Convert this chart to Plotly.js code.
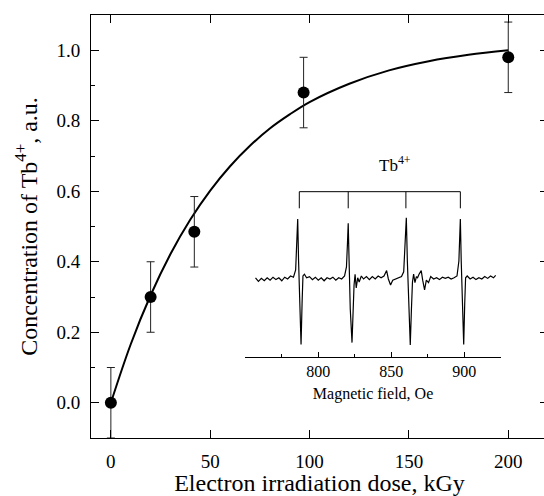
<!DOCTYPE html>
<html>
<head>
<meta charset="utf-8">
<script src="https://cdn.plot.ly/plotly-3.0.1.min.js"></script>
<style>
html,body{margin:0;padding:0;overflow:hidden;background:#fff;}
#plot{width:551px;height:496px;}
</style>
</head>
<body>
<div id="plot"></div>
<script>
// Main data: Tb4+ concentration vs dose
var dose = [0, 20, 42, 97, 200];
var conc = [0.0, 0.30, 0.485, 0.88, 0.98];
var concErr = [0.1, 0.1, 0.1, 0.1, 0.1];

// Fitted curve
var fitDose = [0, 10, 20, 30, 40, 50, 60, 70, 80, 90, 100, 120, 140, 160, 180, 200];
var fitConc = [0.0, 0.166, 0.305, 0.422, 0.520, 0.602, 0.671, 0.729, 0.778, 0.818, 0.853, 0.905, 0.943, 0.969, 0.987, 1.0];

// Inset EPR spectrum (field in Oe, signal in a.u.)
var field = [757, 759, 761, 763, 765, 767, 769, 771, 773, 775, 777, 779, 781, 783, 784.5, 785.3, 785.9, 786.5, 787.2, 788.2, 788.9, 789.5, 790.5,
  792, 794, 796, 798, 800, 802, 804, 806, 808, 810, 812, 814, 816, 818, 819.3, 820, 820.5, 821.1, 821.9, 823.1, 823.8, 824.5, 825.2, 826,
  827, 828, 829.5, 831, 833, 835, 837, 839, 841, 843, 845, 846.8, 848, 849.5, 851, 853, 855, 857, 858.5, 859.5, 860.3, 861, 861.9, 863, 863.8,
  864.5, 865.3, 866.2, 867.2, 868, 869, 870.5, 871.5, 872.8, 874, 875.5, 877, 879, 881, 883, 885, 887, 889, 891, 893, 895, 896.3, 896.9,
  897.3, 897.9, 898.7, 899.6, 900.3, 900.9, 902, 904, 906, 908, 910, 912, 914, 916, 918, 920, 921.5];
var signal = [0.02, -0.04, 0.01, -0.03, 0.02, -0.02, 0.03, -0.01, 0.02, -0.03, 0.03, 0.0, 0.05, 0.03, 0.15, 0.6, 1.0, 0.3, -0.5, -1.09, -0.4, 0.05, 0.08,
  0.02, 0.04, -0.01, 0.03, -0.02, 0.02, -0.03, 0.02, 0.0, 0.03, -0.02, 0.02, 0.0, 0.05, 0.2, 0.6, 0.93, 0.3, -0.5, -1.06, -0.5, -0.1, 0.08, -0.15,
  0.02, -0.05, 0.05, 0.0, 0.04, -0.01, 0.04, 0.0, 0.05, 0.02, 0.05, 0.14, 0.0, -0.1, -0.02, 0.0, 0.02, 0.04, 0.12, 0.6, 1.02, 0.3, -0.5, -1.1, -0.5,
  -0.05, 0.08, -0.06, 0.04, 0.02, 0.08, 0.14, -0.02, -0.18, -0.02, -0.06, 0.04, 0.0, 0.02, -0.01, 0.03, 0.01, 0.03, 0.0, 0.02, 0.05, 0.3, 0.7,
  1.0, 0.3, -0.5, -1.09, -0.4, 0.02, 0.05, 0.0, 0.03, -0.01, 0.02, 0.0, 0.04, 0.01, 0.05, 0.02, 0.06];

// Tb4+ hyperfine line positions (Oe)
var tbLines = [787, 820.5, 860, 897.3];

var xTicks = [0, 50, 100, 150, 200];
var insetTicks = [800, 850, 900];

// Bracket built from line positions
var brTop = 1.455, brBot = 1.178;
var bx = [], by = [];
bx.push(tbLines[0], tbLines[0], tbLines[tbLines.length-1], tbLines[tbLines.length-1]);
by.push(brBot, brTop, brTop, brBot);
for (var i = 1; i < tbLines.length - 1; i++) {
  bx.push(null, tbLines[i], tbLines[i]);
  by.push(null, brTop, brBot);
}

var serif = 'Liberation Serif';

var traces = [
  {x: fitDose, y: fitConc, mode: 'lines', line: {color: '#000', width: 2, shape: 'spline'}, hoverinfo: 'skip'},
  {x: dose, y: conc, mode: 'markers', marker: {color: '#000', size: 12},
   error_y: {type: 'data', array: concErr, visible: true, color: '#222', thickness: 1, width: 4}},
  {x: field, y: signal, xaxis: 'x2', yaxis: 'y2', mode: 'lines', line: {color: '#000', width: 1.2}},
  {x: bx, y: by, xaxis: 'x2', yaxis: 'y2', mode: 'lines', line: {color: '#000', width: 1}, connectgaps: false}
];

var layout = {
  width: 551, height: 496,
  margin: {l: 91, r: 3, t: 15, b: 58},
  paper_bgcolor: '#fff', plot_bgcolor: 'rgba(0,0,0,0)',
  showlegend: false,
  font: {family: serif, color: '#000'},
  xaxis: {
    range: [-10, 220], tickvals: xTicks, showline: true, linecolor: '#000', linewidth: 1,
    mirror: 'ticks', ticks: 'inside', ticklen: 8, tickwidth: 1, tickcolor: '#000',
    showgrid: false, zeroline: false, tickfont: {size: 19, family: serif},
    ticklabelstandoff: 6,
    title: {text: 'Electron irradiation dose, kGy', font: {size: 24, family: serif}, standoff: 6}
  },
  yaxis: {
    range: [-0.1, 1.1], dtick: 0.2, tick0: 0, tickformat: '.1f', showline: true, linecolor: '#000', linewidth: 1,
    mirror: 'ticks', ticks: 'inside', ticklen: 8, tickwidth: 1, tickcolor: '#000',
    minor: {dtick: 0.1, tick0: 0, ticks: 'inside', ticklen: 4, tickcolor: '#000', tickwidth: 1},
    showgrid: false, zeroline: false, tickfont: {size: 19, family: serif},
    ticklabelstandoff: 6,
    title: {text: 'Concentration of Tb<sup>4+</sup>, a.u.', font: {size: 24, family: serif}, standoff: 12}
  },
  xaxis2: {
    domain: [0.3376, 0.8967], anchor: 'y2', range: [750, 925], tickvals: insetTicks,
    showline: true, linecolor: '#000', linewidth: 1, ticks: 'inside', ticklen: 5, tickcolor: '#000',
    minor: {tickvals: [750, 775, 825, 875, 925], ticks: 'inside', ticklen: 3, tickcolor: '#000'},
    showgrid: false, zeroline: false, tickfont: {size: 16, family: serif}, ticklabelstandoff: 0,
    title: {text: 'Magnetic field, Oe', font: {size: 16, family: serif}, standoff: 8}
  },
  yaxis2: {
    domain: [0.1922, 0.6809], anchor: 'x2', range: [-1.295, 2.15], visible: false, showgrid: false, zeroline: false
  },
  annotations: [
    {xref: 'x2', yref: 'y2', x: 852.5, y: 1.92, text: 'Tb<sup>4+</sup>', showarrow: false,
     font: {size: 17, family: serif, color: '#000'}}
  ]
};

Plotly.newPlot('plot', traces, layout, {displayModeBar: false, staticPlot: true});
</script>
</body>
</html>
